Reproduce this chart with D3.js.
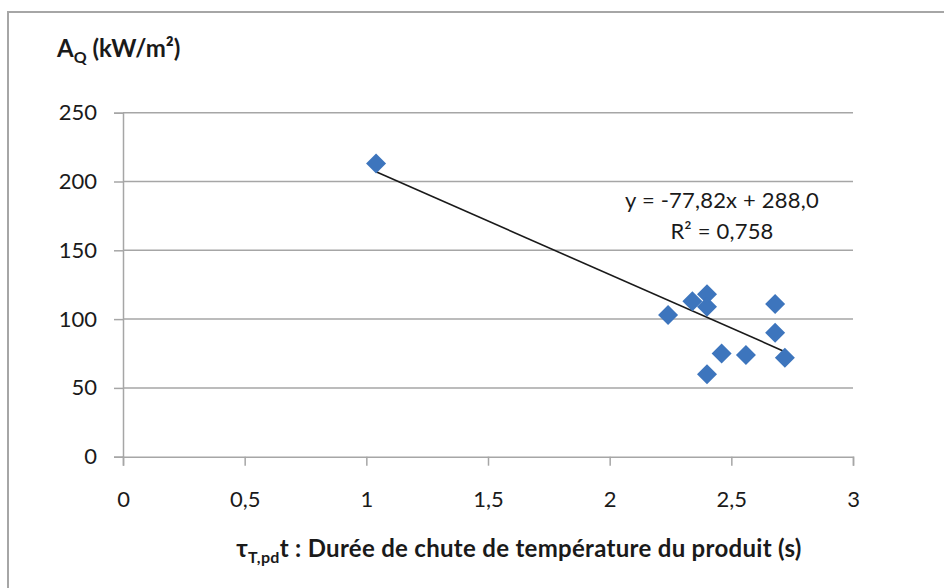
<!DOCTYPE html>
<html>
<head>
<meta charset="utf-8">
<script src="https://cdn.jsdelivr.net/npm/d3@7"></script>
<style>
  html, body { margin: 0; padding: 0; background: #fff; }
  svg { display: block; }
  text { font-family: Lato, "Open Sans", "Liberation Sans", sans-serif; fill: #1a1a1a; }
</style>
</head>
<body>
<svg id="chart" width="944" height="588"></svg>
<script>
// ---- data ----
const durations = [1.04, 2.24, 2.34, 2.40, 2.40, 2.68, 2.68, 2.46, 2.56, 2.40, 2.72];
const aqValues  = [213, 103, 113, 118, 109, 111, 90, 75, 74, 60, 72];
const xTicks = [0, 0.5, 1, 1.5, 2, 2.5, 3];
const yTicks = [0, 50, 100, 150, 200, 250];
const trendSlope = -77.82;
const trendIntercept = 288.0;
const equationLines = ["y = -77,82x + 288,0", "R² = 0,758"];

const svg = d3.select("#chart");
const W = 944, H = 588;
const m = { left: 123, right: 944 - 853, top: 112.7, bottom: 588 - 456.7 };

const x = d3.scaleLinear().domain([0, 3]).range([m.left, W - m.right]);
const y = d3.scaleLinear().domain([0, 250]).range([H - m.bottom, m.top]);

// outer frame
svg.append("rect").attr("x", 8).attr("y", 12).attr("width", 960).attr("height", 600)
  .attr("fill", "none").attr("stroke", "#a6a6a6").attr("stroke-width", 2);

const fmt = d => String(d).replace(".", ",");

// gridlines
svg.append("g").selectAll("line").data(yTicks.filter(d => d > 0)).join("line")
  .attr("x1", x(0)).attr("x2", x(3)).attr("y1", d => y(d)).attr("y2", d => y(d))
  .attr("stroke", "#a6a6a6").attr("stroke-width", 1.5);

// y axis
const yAxis = svg.append("g").attr("transform", `translate(${x(0)},0)`)
  .call(d3.axisLeft(y).tickValues(yTicks).tickSize(9).tickPadding(17).tickFormat(fmt));
yAxis.select(".domain").attr("stroke", "#a6a6a6").attr("stroke-width", 1.5);
yAxis.selectAll(".tick line").attr("stroke", "#a6a6a6").attr("stroke-width", 1.5);
yAxis.selectAll(".tick text").attr("font-size", 22).attr("fill", "#1a1a1a")
  .style("font-family", "Lato, 'Open Sans', sans-serif");

// x axis
const xAxis = svg.append("g").attr("transform", `translate(0,${y(0)})`)
  .call(d3.axisBottom(x).tickValues(xTicks).tickSize(9).tickPadding(26).tickFormat(fmt));
xAxis.select(".domain").attr("stroke", "#a6a6a6").attr("stroke-width", 1.5);
xAxis.selectAll(".tick line").attr("stroke", "#a6a6a6").attr("stroke-width", 1.5);
xAxis.selectAll(".tick text").attr("font-size", 22).attr("fill", "#1a1a1a")
  .style("font-family", "Lato, 'Open Sans', sans-serif");

// trend line across data range
const xmin = d3.min(durations), xmax = d3.max(durations);
svg.append("line")
  .attr("x1", x(xmin)).attr("y1", y(trendSlope * xmin + trendIntercept))
  .attr("x2", x(xmax)).attr("y2", y(trendSlope * xmax + trendIntercept))
  .attr("stroke", "#1a1a1a").attr("stroke-width", 1.6);

// points (diamonds)
const pts = durations.map((d, i) => ({ x: d, y: aqValues[i] }));
const diamond = d3.symbol().type(d3.symbolSquare).size(200);
svg.append("g").selectAll("path").data(pts).join("path")
  .attr("d", diamond)
  .attr("transform", d => `translate(${x(d.x)},${y(d.y)}) rotate(45)`)
  .attr("fill", "#3d75bd");

// equation label
const eq = svg.append("text").attr("text-anchor", "middle").attr("font-size", 22)
  .attr("letter-spacing", 0.2);
eq.selectAll("tspan").data(equationLines).join("tspan")
  .attr("x", 722).attr("y", (d, i) => 208 + i * 31).text(d => d);

// y title
const yt = svg.append("text").attr("x", 57).attr("y", 57)
  .attr("font-size", 24).attr("font-weight", "bold");
yt.append("tspan").text("A");
yt.append("tspan").attr("font-size", 16).attr("dy", 6).text("Q");
yt.append("tspan").attr("dy", -6).text(" (kW/m²)");

// x title
const xt = svg.append("text").attr("x", 519).attr("y", 557).attr("text-anchor", "middle")
  .attr("font-size", 24).attr("font-weight", "bold").attr("letter-spacing", 0.3);
xt.append("tspan").text("τ");
xt.append("tspan").attr("font-size", 16).attr("dy", 6).text("T,pd");
xt.append("tspan").attr("dy", -6).text("t : Durée de chute de température du produit (s)");
</script>
</body>
</html>
